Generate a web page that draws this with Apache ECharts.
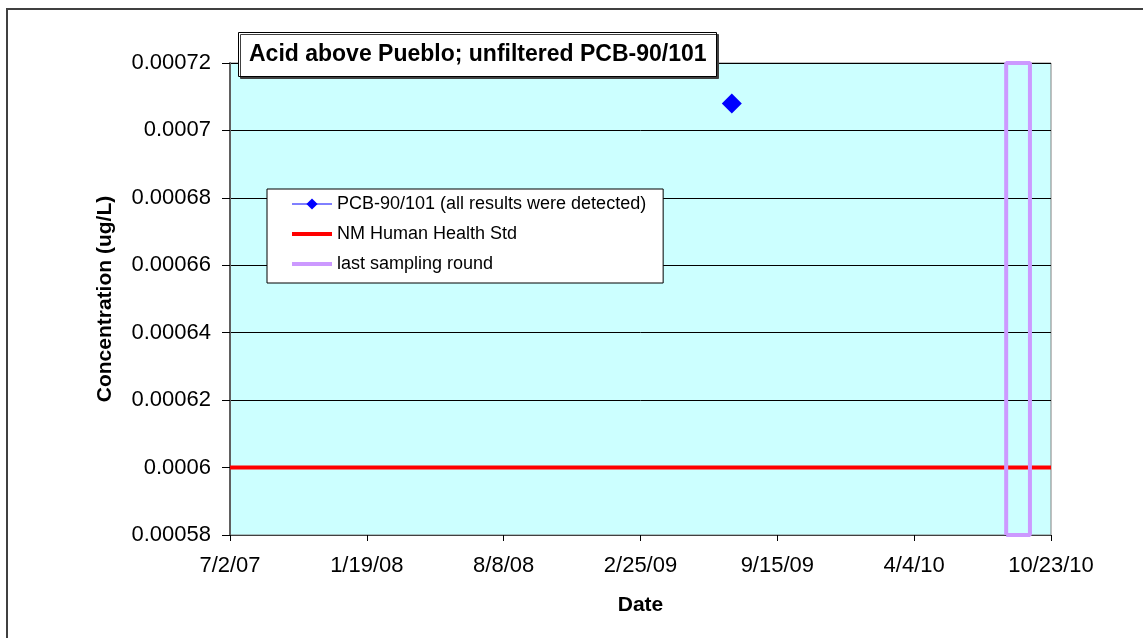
<!DOCTYPE html>
<html>
<head>
    <meta charset="utf-8"/>
    <style>
        html, body {
            height: 100%;
            margin: 0;
            padding: 0;
            background: #ffffff;
        }

        .container {
            width: 100%;
            height: 100%;
        }
    </style>
</head>
<body>
<div id="main" class="container"></div>
<script src="https://cdn.jsdelivr.net/npm/echarts@6/dist/echarts.min.js"></script>
<script type="text/javascript">
    // chart data
    var pcbDates = ['2009-07-10'];
    var pcbValues = [0.000708];
    var nmStd = 0.0006;
    var lastRoundDates = ['2010-08-18', '2010-09-22'];

    // axis settings (x is days since the first tick date)
    var xStart = '2007-07-02';
    var xTickLabels = ['7/2/07', '1/19/08', '8/8/08', '2/25/09', '9/15/09', '4/4/10', '10/23/10'];
    var xStep = 201.5;
    var yMin = 0.00058, yMax = 0.00072, yStep = 0.00002;

    var DAY = 86400000;
    function dayOffset(s) {
        var a = s.split('-'), b = xStart.split('-');
        return (Date.UTC(+a[0], a[1] - 1, +a[2]) - Date.UTC(+b[0], b[1] - 1, +b[2])) / DAY;
    }
    var xMax = xStep * (xTickLabels.length - 1);

    var font = 'Arial, "Liberation Sans", sans-serif';
    var myChart = echarts.init(document.getElementById('main'));

    var pcbData = pcbDates.map(function (d, i) { return [dayOffset(d), pcbValues[i]]; });
    var stdData = [[0, nmStd], [xMax, nmStd]];
    var x1 = dayOffset(lastRoundDates[0]), x2 = dayOffset(lastRoundDates[1]);
    var lastData = [[x1, yMin], [x1, yMax], [x2, yMax], [x2, yMin], [x1, yMin]];

    // line-only series: hide the symbol (also in the legend)
    var noMark = {color: 'rgba(0,0,0,0)', borderColor: 'rgba(0,0,0,0)', borderWidth: 0};

    var option = {
        animation: false,
        graphic: [{
            type: 'rect',
            shape: {x: 7, y: 9, width: 1300, height: 800},
            style: {fill: 'none', stroke: '#404040', lineWidth: 2},
            z: 100
        }],
        title: {
            text: 'Acid above Pueblo; unfiltered PCB-90/101',
            left: 238,
            top: 32,
            padding: [11, 10, 11, 11],
            backgroundColor: '#ffffff',
            borderColor: '#000000',
            borderWidth: 1,
            shadowColor: '#404040',
            shadowOffsetX: 2,
            shadowOffsetY: 2,
            shadowBlur: 0,
            textStyle: {fontFamily: font, fontSize: 23, fontWeight: 'bold', color: '#000000'}
        },
        legend: {
            orient: 'vertical',
            left: 267,
            top: 189,
            padding: [6, 17, 10, 23],
            itemGap: 12,
            itemWidth: 40,
            itemHeight: 14,
            backgroundColor: '#ffffff',
            borderColor: '#000000',
            borderWidth: 1,
            selectedMode: false,
            lineStyle: {width: 'inherit'},
            textStyle: {fontFamily: font, fontSize: 18, color: '#000000'},
            data: ['PCB-90/101 (all results were detected)', 'NM Human Health Std', 'last sampling round']
        },
        grid: {
            left: 230,
            right: 92,
            top: 63,
            bottom: 103,
            show: true,
            backgroundColor: '#CCFFFF',
            borderColor: '#808080',
            borderWidth: 1
        },
        xAxis: {
            type: 'value',
            min: 0,
            max: xMax,
            interval: xStep,
            name: 'Date',
            nameLocation: 'middle',
            nameGap: 60,
            nameTextStyle: {fontFamily: font, fontSize: 21, fontWeight: 'bold', color: '#000000'},
            axisLine: {lineStyle: {color: '#404040', width: 1}},
            axisTick: {length: 6, lineStyle: {color: '#000000'}},
            splitLine: {show: false},
            axisLabel: {
                margin: 20,
                fontFamily: font,
                fontSize: 22,
                color: '#000000',
                formatter: function (v) {
                    return xTickLabels[Math.round(v / xStep)] || '';
                }
            }
        },
        yAxis: {
            type: 'value',
            min: yMin,
            max: yMax,
            interval: yStep,
            name: 'Concentration (ug/L)',
            nameLocation: 'middle',
            nameGap: 114,
            nameTextStyle: {fontFamily: font, fontSize: 21, fontWeight: 'bold', color: '#000000'},
            axisLine: {show: true, lineStyle: {color: '#606060', width: 2}},
            axisTick: {show: true, length: 8, lineStyle: {color: '#000000'}},
            splitLine: {show: true, lineStyle: {color: '#000000', width: 1}},
            axisLabel: {
                margin: 19,
                fontFamily: font,
                fontSize: 22,
                color: '#000000',
                formatter: function (v) {
                    return String(parseFloat(v.toPrecision(6)));
                }
            }
        },
        series: [{
            name: 'PCB-90/101 (all results were detected)',
            type: 'line',
            symbol: 'diamond',
            symbolSize: 20,
            itemStyle: {color: '#0000FF'},
            lineStyle: {color: '#0000FF', width: 1},
            z: 5,
            data: pcbData
        }, {
            name: 'NM Human Health Std',
            type: 'line',
            symbol: 'circle',
            showSymbol: false,
            lineStyle: {color: '#FF0000', width: 4},
            itemStyle: noMark,
            z: 3,
            data: stdData
        }, {
            name: 'last sampling round',
            type: 'line',
            symbol: 'circle',
            showSymbol: false,
            clip: false,
            lineStyle: {color: '#CC99FF', width: 4},
            itemStyle: noMark,
            z: 4,
            data: lastData
        }]
    };

    myChart.setOption(option);
</script>
</body>
</html>
